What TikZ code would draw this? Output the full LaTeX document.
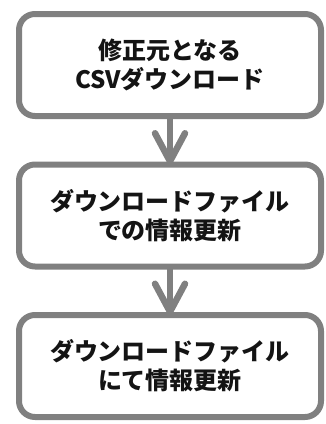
\documentclass[tikz,border=0pt]{standalone}
\usepackage{fontspec}
\newfontfamily\jpfont{Noto Sans CJK JP}
\usepackage{tikz}
\usetikzlibrary{arrows.meta,positioning}
\definecolor{boxgray}{RGB}{128, 128, 128}
\definecolor{textdark}{RGB}{20, 20, 20}

\begin{document}
\begin{tikzpicture}[x=1pt, y=-1pt, node distance=48.5pt,
    stepbox/.style={draw=boxgray, line width=6pt, rounded corners=16pt, fill=white,
      minimum width=302pt, minimum height=102pt, outer sep=0pt, inner sep=0pt,
      align=center, text=textdark, font=\jpfont\bfseries\fontsize{24}{29}\selectfont},
    flow/.style={draw=boxgray, line width=6.5pt,
      -{Straight Barb[length=28pt, width=30pt, line cap=round, line join=round]}}]
    \useasboundingbox (0,0) rectangle (326,424);

    \node[stepbox] (s1) at (170,65) {修正元となる\\CSVダウンロード};
    \node[stepbox] (s2) [below=of s1] {ダウンロードファイル\\での情報更新};
    \node[stepbox] (s3) [below=of s2] {ダウンロードファイル\\にて情報更新};

    \path[flow] (s1) edge (s2);
    \path[flow] (s2) edge (s3);
\end{tikzpicture}
\end{document}
